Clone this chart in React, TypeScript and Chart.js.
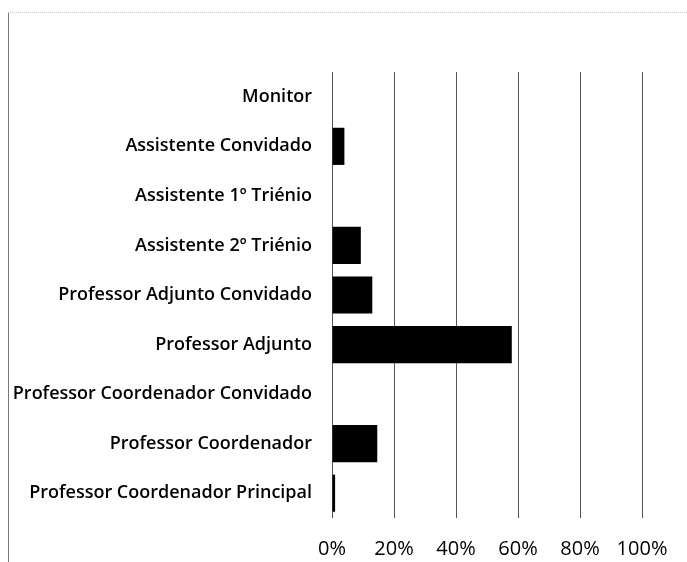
import React, { useEffect, useRef } from "react";
import { Chart, registerables } from "chart.js";

Chart.register(...registerables);

const categories = [
  "Monitor",
  "Assistente Convidado",
  "Assistente 1º Triénio",
  "Assistente 2º Triénio",
  "Professor Adjunto Convidado",
  "Professor Adjunto",
  "Professor Coordenador Convidado",
  "Professor Coordenador",
  "Professor Coordenador Principal",
];

const shares = [0, 4, 0, 9.3, 13, 58, 0, 14.6, 1];

const tickValues = [0, 20, 40, 60, 80, 100];

export default function App() {
  const ref = useRef<HTMLCanvasElement | null>(null);

  useEffect(() => {
    document.body.style.margin = "0";
    const ctx = ref.current;
    if (!ctx) return;
    const chart = new Chart(ctx, {
      type: "bar",
      data: {
        labels: categories,
        datasets: [
          {
            data: shares,
            backgroundColor: "#000000",
            borderWidth: 0,
            barPercentage: 0.75,
            categoryPercentage: 1,
          },
        ],
      },
      options: {
        indexAxis: "y",
        animation: false,
        responsive: false,
        maintainAspectRatio: false,
        layout: { padding: { top: 72, right: 45, left: 0, bottom: 0 } },
        plugins: { legend: { display: false }, tooltip: { enabled: false } },
        scales: {
          x: {
            min: 0,
            max: 100,
            afterBuildTicks: (axis: any) => {
              axis.ticks = tickValues.map((v) => ({ value: v }));
            },
            afterFit: (axis: any) => {
              axis.height = 44;
            },
            grid: { color: "#555555", lineWidth: 1, drawTicks: false },
            border: { display: false },
            ticks: {
              padding: 19,
              color: "#000000",
              font: { family: "Open Sans", size: 20, weight: "normal" as any },
              callback: (v: any) => v + "%",
            },
          },
          y: {
            afterFit: (axis: any) => {
              axis.width = 332;
            },
            grid: { display: false, drawTicks: false },
            border: { display: false },
            ticks: {
              padding: 20,
              color: "#000000",
              font: { family: "Open Sans", size: 18, weight: 600 as any },
            },
          },
        },
      },
    });
    return () => chart.destroy();
  }, []);

  return (
    <div style={{ position: "relative", width: 687, height: 562 }}>
      <div
        style={{
          position: "absolute",
          left: 8,
          top: 12,
          width: 1,
          height: 550,
          background: "#777777",
        }}
      />
      <div
        style={{
          position: "absolute",
          left: 8,
          top: 12,
          width: 679,
          height: 0,
          borderTop: "1px dotted #cccccc",
        }}
      />
      <canvas ref={ref} width={687} height={562} style={{ position: "absolute", left: 0, top: 0 }} />
    </div>
  );
}
